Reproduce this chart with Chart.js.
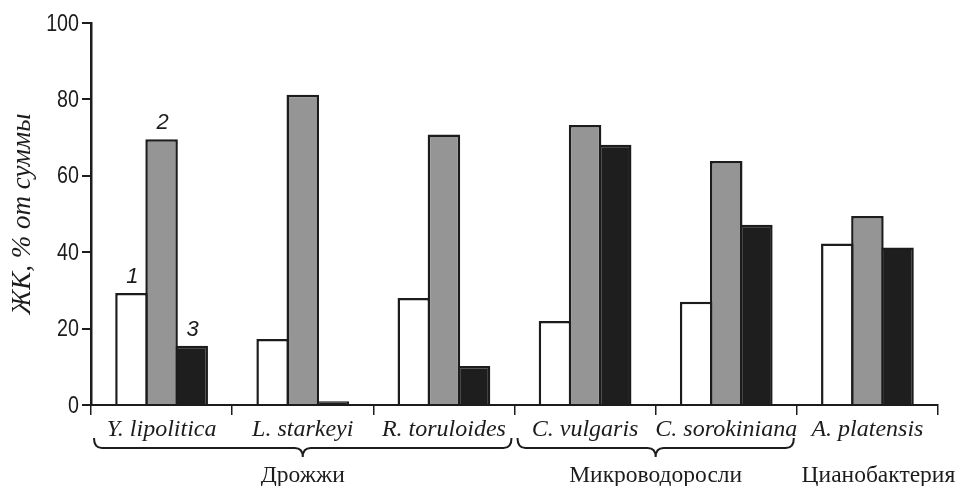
<!DOCTYPE html>
<html>
<head>
<meta charset="utf-8">
<script src="https://cdn.jsdelivr.net/npm/chart.js@4"></script>
<style>
    html, body { margin: 0; padding: 0; background: #fff; }
    #wrap { width: 959px; height: 486px; }
</style>
</head>
<body>
<div id="wrap"><canvas id="chart"></canvas></div>
<script>
    // species on the x axis
    const species = ['Y. lipolitica', 'L. starkeyi', 'R. toruloides', 'C. vulgaris', 'C. sorokiniana', 'A. platensis'];
    // series marks (numbers drawn over the first group)
    const seriesNames = ['1', '2', '3'];
    const values1 = [29.3, 17.3, 28.0, 22.0, 27.0, 42.3];
    const values2 = [69.6, 81.2, 70.8, 73.3, 63.9, 49.5];
    const values3 = [15.5, 1.0, 10.2, 68.1, 47.2, 41.2];
    const yTicks = [0, 20, 40, 60, 80, 100];
    // groups under the axis
    const groupNames = ['Дрожжи', 'Микроводоросли', 'Цианобактерия'];
    const groupFrom = [0, 3, 5];
    const groupTo = [2, 4, 5];
    const groupBrace = [true, true, false];

    const ink = '#1c1c1c';

    // draw a curly brace between x1 and x2, top at y
    function drawBrace(ctx, x1, x2, y){
        const mid = (x1 + x2) / 2;
        const h = 10, tip = 9, r = 8;
        ctx.beginPath();
        ctx.moveTo(x1, y);
        ctx.quadraticCurveTo(x1, y + h, x1 + r, y + h);
        ctx.lineTo(mid - r, y + h);
        ctx.quadraticCurveTo(mid, y + h, mid, y + h + tip);
        ctx.quadraticCurveTo(mid, y + h, mid + r, y + h);
        ctx.lineTo(x2 - r, y + h);
        ctx.quadraticCurveTo(x2, y + h, x2, y);
        ctx.stroke();
    }

    const extras = {
        id: 'extras',
        afterDraw(chart){
            const ctx = chart.ctx;
            const xs = chart.scales.x;
            const ys = chart.scales.y;
            const half = (xs.getPixelForValue(1) - xs.getPixelForValue(0)) / 2;
            ctx.save();
            ctx.strokeStyle = ink;
            ctx.fillStyle = ink;
            ctx.lineWidth = 2;

            // y tick labels, a bit condensed like the original
            ctx.font = '24px "Liberation Sans"';
            ctx.textAlign = 'right';
            ctx.textBaseline = 'middle';
            yTicks.forEach(v => {
                ctx.save();
                ctx.translate(ys.left + ys.width - 12, ys.getPixelForValue(v) + 1);
                ctx.scale(0.82, 1);
                ctx.fillText(String(v), 0, 0);
                ctx.restore();
            });

            // braces and group names
            ctx.font = '23.5px "Liberation Serif"';
            ctx.textAlign = 'center';
            for(let i = 0; i < groupNames.length; i++){
                const left = xs.getPixelForValue(groupFrom[i]) - half;
                const right = xs.getPixelForValue(groupTo[i]) + half;
                if(groupBrace[i]) drawBrace(ctx, left + 3, right - 3, 438);
                const nudge = groupBrace[i] ? 0 : 11;
                ctx.fillText(groupNames[i], (left + right) / 2 + nudge, 476);
            }
            // series numbers over the first category
            ctx.font = 'italic 22px "Liberation Sans"';
            ctx.textBaseline = 'bottom';
            for(let d = 0; d < seriesNames.length; d++){
                const bar = chart.getDatasetMeta(d).data[0];
                ctx.fillText(seriesNames[d], bar.x + 1, bar.y - 5);
            }
            ctx.restore();
        }
    };

    const bar = (data, fill) => ({
        data: data,
        backgroundColor: fill,
        borderColor: ink,
        borderWidth: 2.5,
        borderSkipped: 'start',
        categoryPercentage: 0.64,
        barPercentage: 1.08
    });

    new Chart(document.getElementById('chart'), {
        type: 'bar',
        data: {
            labels: species,
            datasets: [
                bar(values1, '#ffffff'),
                bar(values2, '#959595'),
                bar(values3, '#1e1e1e')
            ]
        },
        options: {
            responsive: true,
            maintainAspectRatio: false,
            animation: false,
            layout: { padding: { top: 23, right: 21, left: 0, bottom: 0 } },
            plugins: { legend: { display: false }, tooltip: { enabled: false } },
            scales: {
                x: {
                    afterFit: s => { s.height = 81; },
                    border: { display: true, color: ink, width: 2 },
                    grid: { display: true, drawOnChartArea: false, drawTicks: true, tickLength: 10, color: ink, lineWidth: 1.5, offset: true },
                    ticks: { color: ink, padding: 0, font: { family: 'Liberation Serif', style: 'italic', size: 24 }, maxRotation: 0, autoSkip: false }
                },
                y: {
                    min: 0,
                    max: 100,
                    afterFit: s => { s.width = 91; },
                    afterBuildTicks: s => { s.ticks = yTicks.map(v => ({ value: v })); },
                    border: { display: true, color: ink, width: 2.5 },
                    grid: { display: true, drawOnChartArea: false, drawTicks: true, tickLength: 9, color: ink, lineWidth: 2 },
                    ticks: { display: false },
                    title: {
                        display: true,
                        text: 'ЖК, % от суммы',
                        color: ink,
                        padding: { top: 7, bottom: 0 },
                        font: { family: 'Liberation Serif', style: 'italic', size: 27 }
                    }
                }
            }
        },
        plugins: [extras]
    });
</script>
</body>
</html>
